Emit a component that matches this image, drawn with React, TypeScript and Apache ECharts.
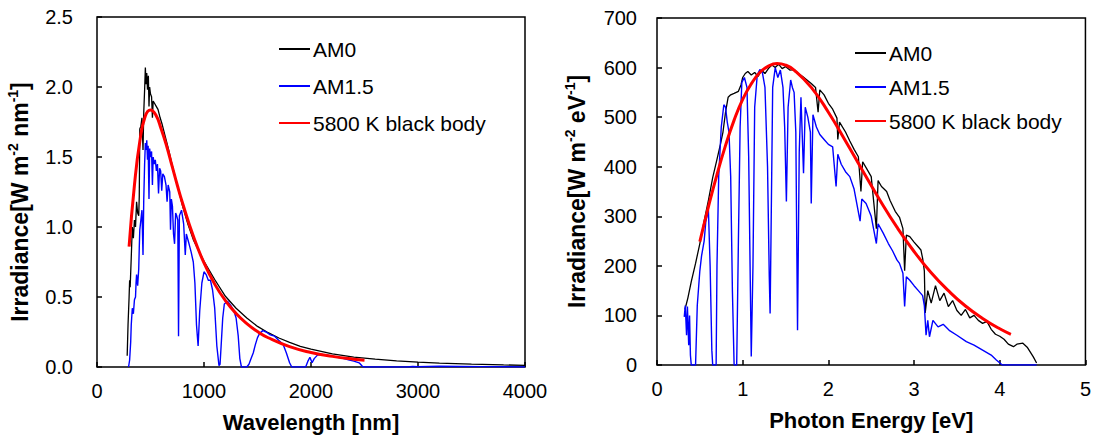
import React, { useEffect, useRef } from "react";
import * as echarts from "echarts";

const FONT = "'Liberation Sans', Arial, Helvetica, sans-serif";

// ---- Left panel: irradiance vs wavelength (nm, W m-2 nm-1) ----
const AM0_NM: [number, number][] = [
  [282, 0.08], [290, 0.3], [300, 0.5], [305, 0.62], [310, 0.57], [320, 0.78], [330, 1.0],
  [340, 0.92], [350, 1.05], [360, 1.0], [370, 1.18], [380, 1.1], [390, 1.08], [395, 1.22],
  [400, 1.7], [410, 1.72], [420, 1.78], [430, 1.55], [437, 1.82], [445, 1.98], [452, 2.14],
  [458, 2.02], [465, 2.1], [472, 1.98], [480, 2.08], [486, 1.86], [492, 2.0], [500, 1.95],
  [510, 1.93], [518, 1.78], [525, 1.9], [540, 1.88], [555, 1.86], [570, 1.84], [590, 1.78],
  [610, 1.73], [640, 1.64], [670, 1.55], [700, 1.45], [750, 1.3], [800, 1.15], [850, 1.02],
  [900, 0.91], [950, 0.83], [1000, 0.755], [1100, 0.625], [1200, 0.505], [1300, 0.42],
  [1400, 0.35], [1500, 0.29], [1600, 0.245], [1700, 0.207], [1800, 0.176], [1900, 0.148],
  [2000, 0.127], [2200, 0.094], [2400, 0.071], [2600, 0.056], [2800, 0.044], [3000, 0.035],
  [3200, 0.028], [3500, 0.02], [3800, 0.015], [4000, 0.012],
];

const AM15_NM: [number, number][] = [
  [295, 0], [305, 0.05], [315, 0.18], [320, 0.3], [330, 0.42], [340, 0.38], [350, 0.48],
  [360, 0.5], [365, 0.6], [370, 0.66], [380, 0.58], [390, 0.7], [395, 0.85], [400, 0.98],
  [410, 1.05], [420, 1.12], [430, 0.8], [437, 1.2], [445, 1.45], [452, 1.6], [460, 1.55],
  [465, 1.62], [472, 1.48], [478, 1.58], [486, 1.2], [492, 1.56], [500, 1.5], [510, 1.54],
  [518, 1.3], [525, 1.5], [535, 1.45], [545, 1.48], [555, 1.4], [565, 1.45], [575, 1.24],
  [585, 1.42], [595, 1.4], [605, 1.26], [615, 1.38], [630, 1.36], [645, 1.3], [655, 1.18],
  [665, 1.3], [680, 1.25], [687, 0.98], [695, 1.2], [705, 1.15], [715, 0.95], [725, 0.88],
  [735, 1.1], [745, 1.08], [755, 1.05], [762, 0.22], [770, 1.08], [790, 1.12], [810, 1.02],
  [825, 0.8], [835, 0.95], [860, 0.88], [880, 0.82], [900, 0.75], [915, 0.6], [930, 0.3],
  [945, 0.15], [960, 0.4], [980, 0.6], [1000, 0.68], [1020, 0.66], [1040, 0.62],
  [1060, 0.62], [1080, 0.55], [1100, 0.42], [1120, 0.15], [1140, 0.01], [1150, 0.02],
  [1160, 0.15], [1175, 0.35], [1190, 0.45], [1220, 0.47], [1250, 0.44], [1280, 0.4],
  [1300, 0.35], [1320, 0.22], [1335, 0.06], [1350, 0.0], [1400, 0], [1420, 0.02],
  [1440, 0.06], [1460, 0.1], [1480, 0.16], [1500, 0.21], [1520, 0.24], [1550, 0.26],
  [1580, 0.25], [1620, 0.23], [1660, 0.22], [1700, 0.19], [1740, 0.16], [1770, 0.1],
  [1800, 0.03], [1820, 0], [1950, 0], [1970, 0.04], [1990, 0.07], [2010, 0.03], [2030, 0.06],
  [2060, 0.085], [2100, 0.09], [2150, 0.085], [2200, 0.078], [2250, 0.07], [2300, 0.062],
  [2350, 0.052], [2400, 0.042], [2450, 0.03], [2480, 0.005], [2500, 0], [2900, 0],
  [2950, 0.004], [3000, 0.002], [3200, 0.005], [3400, 0.004], [3600, 0.003], [3800, 0.002],
  [4000, 0],
];

const BB_NM: [number, number][] = [
  [300, 0.86], [350, 1.3], [400, 1.61], [450, 1.79], [500, 1.836], [550, 1.8], [600, 1.7],
  [650, 1.58], [700, 1.44], [750, 1.3], [800, 1.17], [900, 0.935], [1000, 0.743],
  [1100, 0.592], [1200, 0.474], [1300, 0.382], [1400, 0.31], [1500, 0.253], [1600, 0.209],
  [1800, 0.145], [2000, 0.1035], [2200, 0.076], [2400, 0.056], [2500, 0.049],
];

// ---- Right panel: irradiance vs photon energy (eV, W m-2 eV-1) ----
const AM0_EV: [number, number][] = [
  [0.326, 112], [0.36, 135], [0.4, 168], [0.45, 205], [0.5, 245], [0.55, 290], [0.6, 332],
  [0.65, 378], [0.7, 415], [0.74, 445], [0.77, 470], [0.8, 510], [0.83, 540], [0.86, 545],
  [0.9, 548], [0.95, 552], [0.98, 565], [1.0, 580], [1.03, 588], [1.06, 592], [1.1, 585],
  [1.14, 590], [1.18, 582], [1.22, 595], [1.26, 588], [1.3, 598], [1.34, 605], [1.38, 600],
  [1.42, 607], [1.46, 598], [1.5, 602], [1.55, 595], [1.6, 596], [1.65, 588], [1.7, 582],
  [1.75, 575], [1.8, 568], [1.85, 560], [1.88, 510], [1.9, 555], [1.95, 545], [2.0, 528],
  [2.05, 516], [2.1, 498], [2.11, 455], [2.13, 490], [2.2, 470], [2.25, 452], [2.3, 435],
  [2.35, 420], [2.38, 350], [2.4, 410], [2.45, 395], [2.5, 380], [2.56, 275], [2.58, 372],
  [2.62, 360], [2.68, 350], [2.72, 332], [2.78, 310], [2.83, 298], [2.87, 275], [2.89, 190],
  [2.91, 262], [2.95, 259], [3.0, 248], [3.05, 238], [3.08, 232], [3.1, 215], [3.12, 190],
  [3.13, 105], [3.16, 150], [3.2, 125], [3.25, 160], [3.3, 130], [3.35, 145], [3.4, 118],
  [3.45, 130], [3.5, 110], [3.55, 100], [3.6, 112], [3.65, 95], [3.7, 100], [3.75, 90],
  [3.8, 84], [3.85, 88], [3.9, 72], [3.95, 62], [4.0, 58], [4.05, 52], [4.1, 42], [4.16, 37],
  [4.2, 42], [4.27, 44], [4.32, 36], [4.39, 17], [4.43, 4],
];

const AM15_EV: [number, number][] = [
  [0.318, 97], [0.33, 120], [0.345, 60], [0.355, 118], [0.37, 40], [0.38, 100], [0.39, 20],
  [0.4, 0], [0.45, 0], [0.47, 120], [0.5, 190], [0.52, 220], [0.55, 250], [0.57, 290],
  [0.6, 313], [0.62, 200], [0.64, 30], [0.65, 0], [0.69, 0], [0.7, 200], [0.72, 380],
  [0.75, 480], [0.78, 525], [0.8, 520], [0.82, 490], [0.84, 470], [0.86, 380], [0.88, 150],
  [0.9, 0], [0.93, 0], [0.95, 250], [0.97, 480], [0.99, 570], [1.02, 580], [1.05, 560],
  [1.07, 420], [1.09, 150], [1.1, 17], [1.12, 200], [1.14, 520], [1.17, 585], [1.2, 596],
  [1.23, 590], [1.26, 560], [1.29, 400], [1.31, 180], [1.32, 104], [1.33, 250], [1.35, 560],
  [1.38, 600], [1.41, 580], [1.44, 595], [1.47, 560], [1.49, 480], [1.51, 330], [1.53, 520],
  [1.56, 575], [1.58, 560], [1.6, 550], [1.62, 470], [1.64, 70], [1.66, 430], [1.68, 540],
  [1.71, 387], [1.73, 520], [1.76, 500], [1.79, 470], [1.8, 326], [1.82, 505], [1.86, 480],
  [1.9, 465], [1.95, 455], [2.0, 445], [2.05, 440], [2.09, 360], [2.11, 425], [2.15, 405],
  [2.2, 390], [2.25, 380], [2.3, 355], [2.37, 290], [2.39, 335], [2.44, 326], [2.5, 300],
  [2.56, 245], [2.58, 285], [2.64, 266], [2.7, 245], [2.75, 230], [2.8, 212], [2.83, 205],
  [2.87, 185], [2.89, 118], [2.91, 178], [2.95, 171], [3.0, 160], [3.05, 150], [3.1, 140],
  [3.12, 120], [3.14, 60], [3.16, 90], [3.18, 57], [3.22, 90], [3.28, 77], [3.34, 82],
  [3.41, 70], [3.5, 60], [3.61, 47], [3.7, 40], [3.8, 30], [3.9, 20], [3.96, 10], [4.03, 0],
  [4.43, 0],
];

const BB_EV: [number, number][] = [
  [0.5, 249], [0.6, 319], [0.7, 384], [0.8, 443], [0.9, 494], [1.0, 536], [1.1, 567],
  [1.2, 590], [1.3, 603], [1.4, 608], [1.5, 605], [1.6, 595], [1.8, 560], [2.0, 510],
  [2.2, 452], [2.4, 392], [2.6, 333], [2.8, 278], [3.0, 229], [3.2, 186], [3.4, 150],
  [3.6, 119], [3.8, 94], [4.0, 73], [4.13, 62],
];

const LEGEND_NAMES = ["AM0", "AM1.5", "5800 K black body"];
const LEFT_X_TICKS = { min: 0, max: 4000, interval: 1000 };
const LEFT_Y_TICKS = { min: 0, max: 2.5, interval: 0.5 };
const RIGHT_X_TICKS = { min: 0, max: 5, interval: 1 };
const RIGHT_Y_TICKS = { min: 0, max: 700, interval: 100 };

const tickLabel = { color: "#000", fontSize: 20, fontFamily: FONT };
const nameRich = {
  b: { fontSize: 23, fontWeight: "bold", fontFamily: FONT, color: "#000", lineHeight: 28 },
  s: { fontSize: 14, fontWeight: "bold", fontFamily: FONT, color: "#000", lineHeight: 15, verticalAlign: "top" },
};

function xAxis(gridIndex: number, ticks: any, name: string) {
  return {
    type: "value",
    gridIndex,
    ...ticks,
    name,
    nameLocation: "middle",
    nameGap: 44,
    nameTextStyle: { fontSize: 22, fontWeight: "bold", fontFamily: FONT, color: "#000", lineHeight: 22 },
    axisLine: { show: false },
    axisTick: { show: true, inside: true, length: 5, lineStyle: { color: "#000", width: 1.5 } },
    axisLabel: { ...tickLabel, margin: 14, formatter: (v: number) => String(v) },
    splitLine: { show: false },
  };
}

function yAxis(gridIndex: number, ticks: any, name: string, gap: number, margin: number, pad: number[], fmt?: (v: number) => string) {
  return {
    type: "value",
    gridIndex,
    ...ticks,
    name,
    nameLocation: "middle",
    nameRotate: 90,
    nameGap: gap,
    nameTextStyle: { rich: nameRich, padding: pad },
    axisLine: { show: false },
    axisTick: { show: true, inside: true, length: 5, lineStyle: { color: "#000", width: 1.5 } },
    axisLabel: { ...tickLabel, margin, formatter: fmt || ((v: number) => String(v)) },
    splitLine: { show: false },
  };
}

function seriesSet(axisIndex: number, am0: [number, number][], am15: [number, number][], bb: [number, number][]) {
  const base = { type: "line", xAxisIndex: axisIndex, yAxisIndex: axisIndex, symbol: "none", showSymbol: false, silent: true };
  return [
    { ...base, name: LEGEND_NAMES[0], data: am0, lineStyle: { color: "#000000", width: 1.3 }, itemStyle: { color: "#000000" }, z: 2 },
    { ...base, name: LEGEND_NAMES[1], data: am15, lineStyle: { color: "#0000ff", width: 1.4 }, itemStyle: { color: "#0000ff" }, z: 3 },
    { ...base, name: LEGEND_NAMES[2], data: bb, smooth: true, lineStyle: { color: "#ff0000", width: 3 }, itemStyle: { color: "#ff0000" }, z: 4 },
  ];
}

function legend(left: number, top: number, gap: number) {
  return {
    orient: "vertical",
    left,
    top,
    padding: 0,
    itemGap: gap,
    itemWidth: 31,
    itemHeight: 14,
    data: LEGEND_NAMES,
    selectedMode: false,
    itemStyle: { opacity: 0 },
    textStyle: { fontSize: 21, fontFamily: FONT, color: "#000", lineHeight: 24, padding: [0, 0, 0, -2] },
  };
}

export default function App() {
  const ref = useRef<HTMLDivElement>(null);
  useEffect(() => {
    document.body.style.margin = "0";
    const chart = echarts.init(ref.current!, undefined, { renderer: "svg" });
    chart.setOption({
      animation: false,
      backgroundColor: "#ffffff",
      grid: [
        { left: 97, top: 17, width: 428, height: 350, show: true, borderColor: "#000", borderWidth: 1.5, containLabel: false },
        { left: 657, top: 18, width: 429, height: 347, show: true, borderColor: "#000", borderWidth: 1.5, containLabel: false },
      ],
      legend: [legend(278, 37, 13), legend(854, 41, 10)],
      xAxis: [
        xAxis(0, LEFT_X_TICKS, "Wavelength [nm]"),
        xAxis(1, RIGHT_X_TICKS, "Photon Energy [eV]"),
      ],
      yAxis: [
        yAxis(0, LEFT_Y_TICKS, "{b|Irradiance[W m}{s|-2}{b| nm}{s|-1}{b|]}", 63, 24, [0, 20, 0, 0], (v: number) => v.toFixed(1)),
        yAxis(1, RIGHT_Y_TICKS, "{b|Irradiance[W m}{s|-2}{b| eV}{s|-1}{b|]}", 66, 20, [0, 0, 0, 0]),
      ],
      series: [...seriesSet(0, AM0_NM, AM15_NM, BB_NM), ...seriesSet(1, AM0_EV, AM15_EV, BB_EV)],
    });
    return () => chart.dispose();
  }, []);
  return <div ref={ref} style={{ position: "fixed", left: 0, top: 0, width: 1094, height: 441, background: "#fff" }} />;
}
